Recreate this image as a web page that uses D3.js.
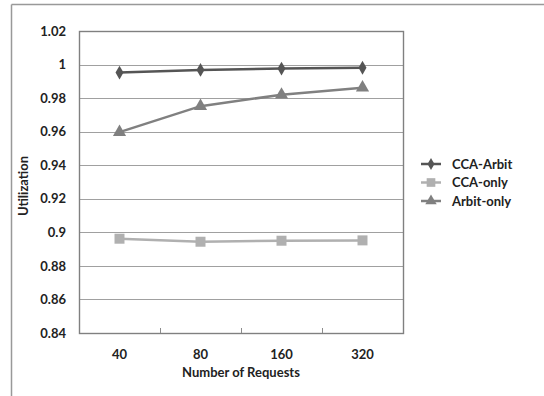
<!DOCTYPE html>
<html>
<head>
<meta charset="utf-8">
<script src="https://cdn.jsdelivr.net/npm/d3@7.9.0/dist/d3.min.js"></script>
<style>
  body { margin: 0; background: #fff; }
  svg { display: block; font-family: Lato, "Liberation Sans", Arial, sans-serif; }
  .tick text { font-weight: bold; fill: #222; }
</style>
</head>
<body>
<svg id="chart" width="544" height="396"></svg>
<script>
// chart data
const categories = ["40", "80", "160", "320"];
const seriesNames = ["CCA-Arbit", "CCA-only", "Arbit-only"];
const ccaArbit = [0.9952, 0.9968, 0.9976, 0.9981];
const ccaOnly = [0.8962, 0.8944, 0.8950, 0.8952];
const arbitOnly = [0.9597, 0.9752, 0.9820, 0.9862];
const yTicks = [0.84, 0.86, 0.88, 0.9, 0.92, 0.94, 0.96, 0.98, 1, 1.02];

const series = [
    { name: seriesNames[0], values: ccaArbit, color: "#555555", symbol: d3.symbolDiamond, size: 55 },
    { name: seriesNames[1], values: ccaOnly, color: "#b0b0b0", symbol: d3.symbolSquare, size: 100 },
    { name: seriesNames[2], values: arbitOnly, color: "#808080", symbol: d3.symbolTriangle, size: 75 }
];

const fontFam = "Lato, Liberation Sans, Arial, sans-serif";
const svg = d3.select("#chart");
const margin = { left: 79, right: 141, top: 31, bottom: 63 };
const width = 544 - margin.left - margin.right;
const height = 396 - margin.top - margin.bottom;

// outer frame (top and left only visible)
svg.append("line").attr("x1", 11.5).attr("x2", 544).attr("y1", 4.5).attr("y2", 4.5)
    .attr("stroke", "#999").attr("stroke-width", 1.5);
svg.append("line").attr("x1", 11.5).attr("x2", 11.5).attr("y1", 4.5).attr("y2", 396)
    .attr("stroke", "#999").attr("stroke-width", 1.5);

const g = svg.append("g").attr("transform", `translate(${margin.left},${margin.top})`);

const x = d3.scaleBand().domain(categories).range([0, width]);
const y = d3.scaleLinear().domain([0.84, 1.02]).range([height, 0]);

// gridlines
g.selectAll(".grid").data(yTicks.slice(1, -1)).join("line")
    .attr("class", "grid")
    .attr("x1", 0).attr("x2", width)
    .attr("y1", d => Math.round(y(d)) + 0.5).attr("y2", d => Math.round(y(d)) + 0.5)
    .attr("stroke", "#a0a0a0").attr("stroke-width", 1);

// plot border
g.append("rect").attr("x", 0.5).attr("y", 0.5).attr("width", width).attr("height", height)
    .attr("fill", "none").attr("stroke", "#808080").attr("stroke-width", 1.4);

// y axis labels
const yAxis = g.append("g").call(d3.axisLeft(y).tickValues(yTicks).tickSize(0).tickPadding(13)
    .tickFormat(d => d3.format("")(+d.toFixed(2))));
yAxis.select(".domain").remove();
yAxis.selectAll("text").attr("font-size", 13).attr("font-family", fontFam);

// x axis: inward ticks at band boundaries
const boundaries = categories.slice(1).map(c => x(c));
g.selectAll(".xtick").data(boundaries).join("line")
    .attr("x1", d => Math.round(d) + 0.5).attr("x2", d => Math.round(d) + 0.5)
    .attr("y1", height).attr("y2", height - 5)
    .attr("stroke", "#8c8c8c");

const xAxis = g.append("g").attr("transform", `translate(0,${height})`)
    .call(d3.axisBottom(x).tickSize(0).tickPadding(17));
xAxis.select(".domain").remove();
xAxis.selectAll("text").attr("font-size", 13).attr("font-family", fontFam);

// axis titles
svg.append("text").attr("x", margin.left + width / 2).attr("y", 377)
    .attr("text-anchor", "middle").attr("font-size", 13).attr("font-weight", "bold")
    .attr("fill", "#222").text("Number of Requests");
svg.append("text").attr("transform", "translate(28,186) rotate(-90)")
    .attr("text-anchor", "middle").attr("font-size", 13).attr("font-weight", "bold")
    .attr("fill", "#222").text("Utilization");

// lines + markers
const line = d3.line().x((d, i) => x(categories[i]) + x.bandwidth() / 2).y(d => y(d));
series.forEach(s => {
    g.append("path").datum(s.values)
        .attr("d", line).attr("fill", "none")
        .attr("stroke", s.color).attr("stroke-width", 2.5);
    g.selectAll(null).data(s.values).join("path")
        .attr("transform", (d, i) => `translate(${x(categories[i]) + x.bandwidth() / 2},${y(d)})`)
        .attr("d", d3.symbol().type(s.symbol).size(s.size))
        .attr("fill", s.color);
});

// legend
const legend = svg.append("g").attr("transform", "translate(421,164)");
series.forEach((s, i) => {
    const row = legend.append("g").attr("transform", `translate(0,${i * 18.5})`);
    row.append("line").attr("x1", 0).attr("x2", 20).attr("stroke", s.color).attr("stroke-width", 2.5);
    row.append("path").attr("transform", "translate(10,0)")
        .attr("d", d3.symbol().type(s.symbol).size(s.size * 0.75)).attr("fill", s.color);
    row.append("text").attr("x", 31).attr("dy", "0.35em")
        .attr("font-size", 13).attr("font-weight", "bold").attr("fill", "#222").text(s.name);
});
</script>
</body>
</html>
